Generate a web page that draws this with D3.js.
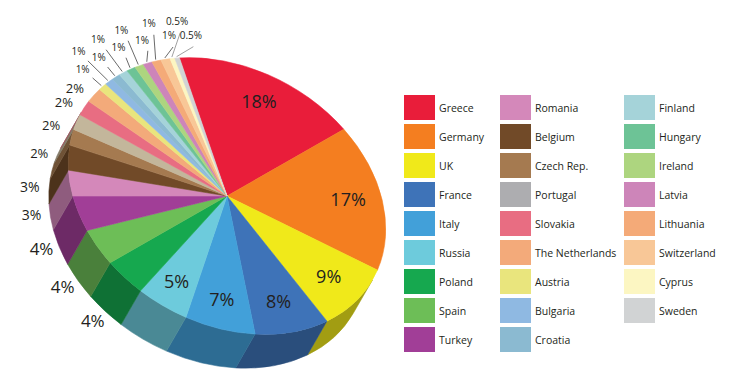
<!DOCTYPE html>
<meta charset="utf-8">
<style>
  body { margin: 0; background: #fff; }
  text { font-family: 'Open Sans', sans-serif; fill: #231f20; }
</style>
<div id="my_dataviz"></div>
<script src="https://d3js.org/d3.v7.min.js"></script>
<script>

// data
var countries = ["Greece", "Germany", "UK", "France", "Italy", "Russia", "Poland", "Spain", "Turkey",
  "Romania", "Belgium", "Czech Rep.", "Portugal", "Slovakia", "The Netherlands", "Austria", "Bulgaria", "Croatia",
  "Finland", "Hungary", "Ireland", "Latvia", "Lithuania", "Switzerland", "Cyprus", "Sweden"];
var shares = [18, 17, 9, 8, 7, 5, 4, 4, 4, 3, 3, 2, 2, 2, 2, 1, 1, 1, 1, 1, 1, 1, 1, 1, 0.5, 0.5];
var colors = ["#e91d3a", "#f47e20", "#f0e91a", "#3e73b8", "#42a0d9", "#6dcbdc", "#16a84f", "#6dbe57", "#a13e97",
  "#d488ba", "#714a28", "#a57a50", "#adadb0", "#e86d82", "#f3aa7a", "#e9e57d", "#8fb9e2", "#8bbad1",
  "#a5d3d9", "#6dc396", "#add57f", "#cd85b9", "#f4aa78", "#f8c797", "#fcf6c2", "#d1d3d4"];
// the pie draws Portugal in beige, the legend in grey
var sliceColors = colors.slice();
sliceColors[12] = "#c3b69b";
var legendColumns = [9, 9, 8];

var width = 732, height = 388;
var cx = 227, cy = 196, rx = 168, ry = 127, depth = 39, tilt = 30;
var startAngle = -41 * Math.PI / 180;

var svg = d3.select("#my_dataviz")
  .append("svg")
    .attr("width", width)
    .attr("height", height);

var pie = d3.pie()
  .sort(null)
  .value(function(d) { return d; })
  .startAngle(startAngle)
  .endAngle(startAngle + 2 * Math.PI);
var arcs = pie(shares);

// point on the (unrotated) ellipse
function pt(a, k, dz) {
  return [k * rx * Math.sin(a), -k * ry * Math.cos(a) + (dz || 0)];
}
// same point after the tilt, in page coordinates
function project(a, k, dz) {
  var p = pt(a, k, dz), t = tilt * Math.PI / 180;
  return [cx + p[0] * Math.cos(t) - p[1] * Math.sin(t), cy + p[0] * Math.sin(t) + p[1] * Math.cos(t)];
}

var g = svg.append("g")
  .attr("transform", "translate(" + cx + "," + cy + ") rotate(" + tilt + ")");

// side walls, only the front half is visible
var vis0 = Math.PI / 2, vis1 = 3 * Math.PI / 2;
g.selectAll(".side")
  .data(arcs.filter(function(d) { return d.endAngle > vis0 && d.startAngle < vis1; }))
  .enter()
  .append("path")
    .attr("class", "side")
    .attr("d", function(d) {
      var s = Math.max(d.startAngle, vis0), e = Math.min(d.endAngle, vis1);
      var a = pt(s, 1), b = pt(e, 1), c = pt(e, 1, depth), f = pt(s, 1, depth);
      return "M" + a + "A" + rx + "," + ry + " 0 0 1 " + b +
        "L" + c + "A" + rx + "," + ry + " 0 0 0 " + f + "Z";
    })
    .style("fill", function(d) { return d3.color(sliceColors[d.index]).darker(1.1); })
    .style("stroke", function(d) { return d3.color(sliceColors[d.index]).darker(1.1); })
    .style("stroke-width", 0.5);

// top faces
g.selectAll(".top")
  .data(arcs)
  .enter()
  .append("path")
    .attr("class", "top")
    .attr("d", function(d) {
      var a = pt(d.startAngle, 1), b = pt(d.endAngle, 1);
      var large = d.endAngle - d.startAngle > Math.PI ? 1 : 0;
      return "M0,0L" + a + "A" + rx + "," + ry + " 0 " + large + " 1 " + b + "Z";
    })
    .style("fill", function(d) { return sliceColors[d.index]; })
    .style("stroke", function(d) { return sliceColors[d.index]; })
    .style("stroke-width", 0.5);

// labels
var labels = svg.append("g");
var small = 0, nSmall = shares.filter(function(v) { return v < 2; }).length;
arcs.forEach(function(d) {
  var mid = (d.startAngle + d.endAngle) / 2, v = d.value, txt = v + "%";
  if (v >= 5) {
    var p = project(mid, 0.78, 0);
    labels.append("text").attr("x", p[0]).attr("y", p[1])
      .attr("text-anchor", "middle").attr("dy", "0.35em")
      .style("font-size", "18px").text(txt);
  } else if (v >= 2) {
    var dz = 6 + (depth - 6) * Math.max(0, Math.min(1, -Math.cos(mid) * 3));
    var p = project(mid, 1.12, dz);
    var fs = v == 4 ? 17 : v == 3 ? 14 : 13;
    labels.append("text").attr("x", p[0]).attr("y", p[1])
      .attr("text-anchor", "middle").attr("dy", "0.35em")
      .style("font-size", fs + "px").text(txt);
  } else {
    // small slices: alternate near / far, fanned out a little clockwise
    var far = small % 2 == 1;
    var spread = Math.pow(small / (nSmall - 1), 2) * 7 * Math.PI / 180;
    small++;
    var la = mid + spread;
    var p0 = project(mid, 1.01, 0), p1 = project(la, far ? 1.18 : 1.08, 0);
    var p = project(la, far ? 1.26 : 1.16, 0);
    labels.append("line")
      .attr("x1", p0[0]).attr("y1", p0[1]).attr("x2", p1[0]).attr("y2", p1[1])
      .style("stroke", v < 1 ? "#888" : "#444").style("stroke-width", 0.8);
    labels.append("text").attr("x", p[0]).attr("y", p[1])
      .attr("text-anchor", "middle").attr("dy", "0.35em")
      .style("font-size", "10px").text(txt);
  }
});

// legend
var colX = [404, 500, 624];
var rowY = d3.scaleLinear().domain([0, 1]).range([95, 124]);
var legend = svg.append("g");
var idx = 0;
legendColumns.forEach(function(n, c) {
  for (var r = 0; r < n; r++, idx++) {
    var y = rowY(r);
    legend.append("rect")
      .attr("x", colX[c]).attr("y", y)
      .attr("width", 31).attr("height", 25)
      .style("fill", colors[idx]);
    legend.append("text")
      .attr("x", colX[c] + 35).attr("y", y + 13)
      .attr("dy", "0.35em")
      .style("font-size", "10.5px")
      .text(countries[idx]);
  }
});

</script>
